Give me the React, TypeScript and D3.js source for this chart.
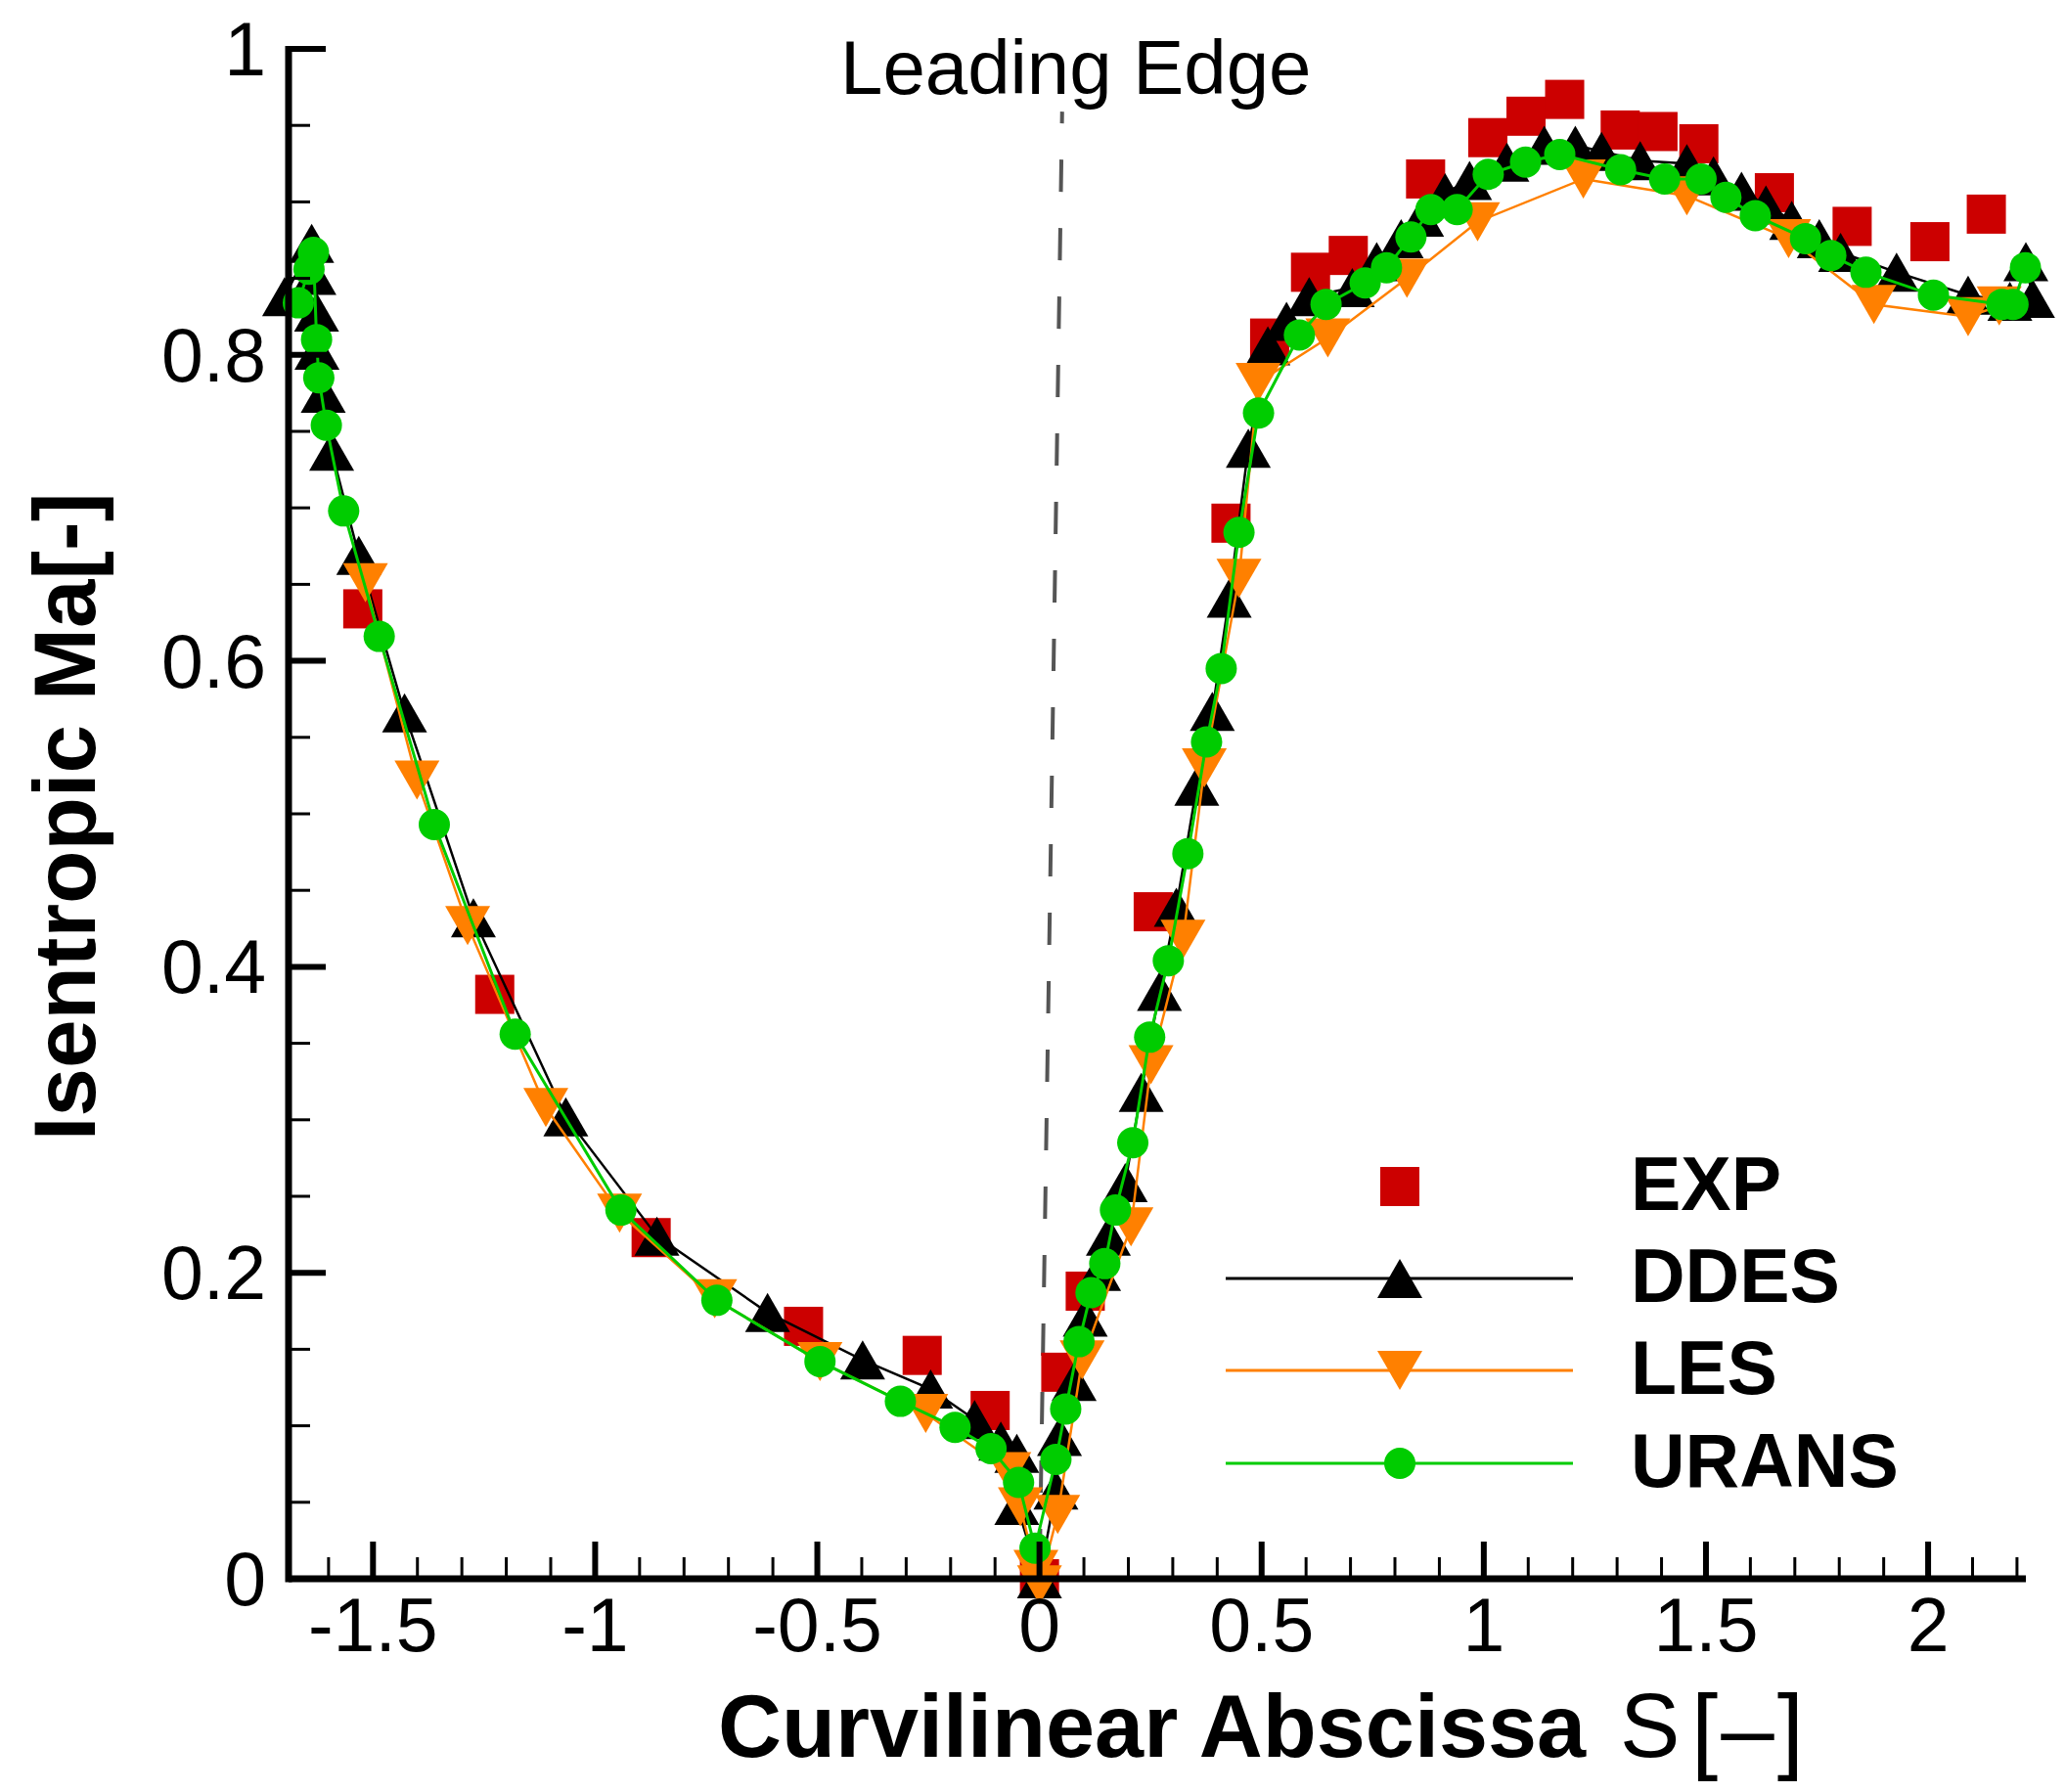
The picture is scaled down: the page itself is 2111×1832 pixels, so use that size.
import * as d3 from "d3";

// --- data (s, Ma_is) ---
const expPoints: [number, number][] = [
  [-1.523, 0.634], [-1.226, 0.382], [-0.874, 0.223], [-0.531, 0.165], [-0.264, 0.146],
  [-0.111, 0.11], [0.0, 0.0], [0.048, 0.135], [0.103, 0.188], [0.256, 0.436],
  [0.431, 0.69], [0.518, 0.811], [0.61, 0.854], [0.695, 0.865], [0.869, 0.915],
  [1.009, 0.942], [1.095, 0.956], [1.182, 0.967], [1.307, 0.947], [1.392, 0.946],
  [1.484, 0.938], [1.654, 0.906], [1.829, 0.884], [2.004, 0.874], [2.131, 0.892],
];

const ddesPoints: [number, number][] = [
  [-1.699, 0.838], [-1.638, 0.873], [-1.633, 0.852], [-1.627, 0.828], [-1.626, 0.803],
  [-1.612, 0.775], [-1.593, 0.737], [-1.532, 0.669], [-1.429, 0.566], [-1.274, 0.432],
  [-1.066, 0.302], [-0.861, 0.224], [-0.612, 0.174], [-0.398, 0.143], [-0.245, 0.124],
  [-0.146, 0.104], [-0.087, 0.09], [-0.051, 0.082], [-0.051, 0.048], [0.0, 0.0],
  [0.037, 0.058], [0.045, 0.093], [0.078, 0.129], [0.103, 0.171], [0.133, 0.201],
  [0.155, 0.224], [0.193, 0.259], [0.229, 0.318], [0.27, 0.384], [0.308, 0.439],
  [0.354, 0.518], [0.389, 0.567], [0.427, 0.641], [0.47, 0.739], [0.514, 0.806],
  [0.556, 0.822], [0.607, 0.838], [0.704, 0.844], [0.759, 0.861], [0.814, 0.876],
  [0.86, 0.89], [0.913, 0.906], [0.968, 0.914], [1.052, 0.926], [1.136, 0.937],
  [1.206, 0.937], [1.265, 0.933], [1.352, 0.927], [1.457, 0.925], [1.517, 0.917],
  [1.58, 0.907], [1.635, 0.898], [1.693, 0.888], [1.755, 0.876], [1.803, 0.867],
  [1.929, 0.854], [2.09, 0.839], [2.184, 0.835], [2.235, 0.837], [2.22, 0.861],
];

const lesPoints: [number, number][] = [
  [-1.517, 0.651], [-1.401, 0.522], [-1.287, 0.427], [-1.111, 0.308], [-0.945, 0.239],
  [-0.731, 0.183], [-0.494, 0.142], [-0.256, 0.108], [-0.069, 0.07], [-0.043, 0.047],
  [-0.008, 0.006], [0.0, -0.004], [0.041, 0.042], [0.096, 0.143], [0.206, 0.23],
  [0.251, 0.336], [0.323, 0.418], [0.371, 0.53], [0.449, 0.654], [0.492, 0.782],
  [0.649, 0.811], [0.827, 0.85], [0.986, 0.887], [1.224, 0.915], [1.457, 0.904],
  [1.686, 0.876], [1.878, 0.833], [2.09, 0.825], [2.16, 0.832],
];

const uransPoints: [number, number][] = [
  [-1.668, 0.834], [-1.644, 0.856], [-1.634, 0.867], [-1.627, 0.81], [-1.622, 0.785],
  [-1.605, 0.754], [-1.566, 0.698], [-1.486, 0.616], [-1.362, 0.493], [-1.18, 0.356],
  [-0.942, 0.241], [-0.726, 0.182], [-0.494, 0.142], [-0.313, 0.116], [-0.19, 0.099],
  [-0.109, 0.085], [-0.047, 0.063], [-0.01, 0.02], [0.037, 0.078], [0.059, 0.111],
  [0.089, 0.155], [0.116, 0.187], [0.147, 0.206], [0.171, 0.241], [0.21, 0.285],
  [0.248, 0.354], [0.29, 0.404], [0.334, 0.474], [0.376, 0.547], [0.409, 0.595],
  [0.449, 0.684], [0.493, 0.762], [0.585, 0.813], [0.645, 0.833], [0.733, 0.847],
  [0.781, 0.857], [0.836, 0.877], [0.881, 0.895], [0.94, 0.895], [1.01, 0.918],
  [1.094, 0.926], [1.171, 0.931], [1.308, 0.921], [1.407, 0.915], [1.489, 0.915],
  [1.545, 0.903], [1.611, 0.891], [1.724, 0.876], [1.781, 0.865], [1.86, 0.854],
  [2.012, 0.839], [2.166, 0.833], [2.191, 0.833], [2.219, 0.857],
];

const leadingEdge: [number, number][] = [[0.051, 0.959], [0.0, 0.0]];

const xMajorTicks = [-1.5, -1, -0.5, 0, 0.5, 1, 1.5, 2];
const xTickLabels = ["-1.5", "-1", "-0.5", "0", "0.5", "1", "1.5", "2"];
const yMajorTicks = [0, 0.2, 0.4, 0.6, 0.8, 1];
const yTickLabels = ["0", "0.2", "0.4", "0.6", "0.8", "1"];

const legendLabels = ["EXP", "DDES", "LES", "URANS"];

const FONT = "'Liberation Sans', Arial, Helvetica, sans-serif";
const RED = "#cc0000";
const ORANGE = "#ff8000";
const GREEN = "#00cc00";

const W = 2111;
const H = 1832;

const x = d3.scaleLinear().domain([-1.69, 2.22]).range([295, 2071]);
const y = d3.scaleLinear().domain([0, 1]).range([1614, 50]);

const line = d3
  .line<[number, number]>()
  .x((d) => x(d[0]))
  .y((d) => y(d[1]));

const triW = 46;
const triH = 40;
const upTri = (cx: number, cy: number) =>
  `M${cx},${cy - triH / 2}L${cx + triW / 2},${cy + triH / 2}L${cx - triW / 2},${cy + triH / 2}Z`;
const downTri = (cx: number, cy: number) =>
  `M${cx},${cy + triH / 2}L${cx + triW / 2},${cy - triH / 2}L${cx - triW / 2},${cy - triH / 2}Z`;

export default function App() {
  const xMinor = d3.range(-16, 23).map((i) => i / 10).filter((v) => !xMajorTicks.some((m) => Math.abs(m - v) < 1e-6));
  const yMinor = d3.range(0, 21).map((i) => i / 20).filter((v) => !yMajorTicks.some((m) => Math.abs(m - v) < 1e-6));
  const [x0, x1] = x.range();
  const [y0, y1] = y.range();
  const legY = [1213, 1307, 1401, 1496];

  return (
    <div style={{ position: "absolute", left: 0, top: 0, background: "#fff" }}>
      <svg width={W} height={H} viewBox={`0 0 ${W} ${H}`} style={{ display: "block", fontFamily: FONT }}>
        <rect width={W} height={H} fill="#fff" />

        {/* leading edge marker */}
        <path
          d={line(leadingEdge) ?? ""}
          stroke="#555"
          strokeWidth={4}
          strokeDasharray="33 37"
          strokeDashoffset={21}
          fill="none"
        />
        <text x={859} y={96} fontSize={78} fill="#000">
          Leading Edge
        </text>

        {/* EXP */}
        {expPoints.map((d, i) => (
          <rect key={`e${i}`} x={x(d[0]) - 20} y={y(d[1]) - 20} width={40} height={40} fill={RED} />
        ))}

        {/* DDES */}
        <path d={line(ddesPoints) ?? ""} stroke="#000" strokeWidth={2.5} fill="none" />
        {ddesPoints.map((d, i) => (
          <path key={`d${i}`} d={upTri(x(d[0]), y(d[1]))} fill="#000" />
        ))}

        {/* LES */}
        <path d={line(lesPoints) ?? ""} stroke={ORANGE} strokeWidth={2.5} fill="none" />
        {lesPoints.map((d, i) => (
          <path key={`l${i}`} d={downTri(x(d[0]), y(d[1]))} fill={ORANGE} />
        ))}

        {/* URANS */}
        <path d={line(uransPoints) ?? ""} stroke={GREEN} strokeWidth={3} fill="none" />
        {uransPoints.map((d, i) => (
          <circle key={`u${i}`} cx={x(d[0])} cy={y(d[1])} r={16} fill={GREEN} />
        ))}

        {/* axes */}
        <line x1={x0} x2={x1} y1={y0} y2={y0} stroke="#000" strokeWidth={7} />
        <line x1={x0} x2={x0} y1={y0 + 3.5} y2={y1 - 3} stroke="#000" strokeWidth={7} />
        {xMajorTicks.map((v, i) => (
          <g key={`xt${i}`}>
            <line x1={x(v)} x2={x(v)} y1={y0} y2={y0 - 38} stroke="#000" strokeWidth={6} />
            <text x={x(v)} y={1688} fontSize={77} textAnchor="middle">
              {xTickLabels[i]}
            </text>
          </g>
        ))}
        {xMinor.map((v, i) => (
          <line key={`xm${i}`} x1={x(v)} x2={x(v)} y1={y0} y2={y0 - 22} stroke="#000" strokeWidth={3} />
        ))}
        {yMajorTicks.map((v, i) => (
          <g key={`yt${i}`}>
            <line x1={x0} x2={x0 + 38} y1={y(v)} y2={y(v)} stroke="#000" strokeWidth={6} />
            <text x={272} y={y(v) + 27} fontSize={77} textAnchor="end">
              {yTickLabels[i]}
            </text>
          </g>
        ))}
        {yMinor.map((v, i) => (
          <line key={`ym${i}`} x1={x0} x2={x0 + 22} y1={y(v)} y2={y(v)} stroke="#000" strokeWidth={3} />
        ))}

        {/* axis titles */}
        <text x={734} y={1796} fontSize={90} fontWeight="bold">
          Curvilinear Abscissa
          <tspan x={1656} fontWeight="normal" fontSize={92}>S</tspan>
          <tspan x={1729} y={1801} fontWeight="normal" fontSize={98} letterSpacing={3}>[–]</tspan>
        </text>
        <text
          transform="translate(97,835) rotate(-90)"
          fontSize={89}
          fontWeight="bold"
          textAnchor="middle"
        >
          Isentropic Ma[-]
        </text>

        {/* legend */}
        <rect x={1431 - 20} y={legY[0] - 20} width={40} height={40} fill={RED} />
        <line x1={1253} x2={1608} y1={legY[1]} y2={legY[1]} stroke="#000" strokeWidth={3} />
        <path d={upTri(1431, legY[1])} fill="#000" />
        <line x1={1253} x2={1608} y1={legY[2]} y2={legY[2]} stroke={ORANGE} strokeWidth={3} />
        <path d={downTri(1431, legY[2])} fill={ORANGE} />
        <line x1={1253} x2={1608} y1={legY[3]} y2={legY[3]} stroke={GREEN} strokeWidth={3} />
        <circle cx={1431} cy={legY[3]} r={16} fill={GREEN} />
        {legendLabels.map((t, i) => (
          <text key={t} x={1667} y={legY[i] + 24} fontSize={77} fontWeight="bold">
            {t}
          </text>
        ))}
      </svg>
    </div>
  );
}
